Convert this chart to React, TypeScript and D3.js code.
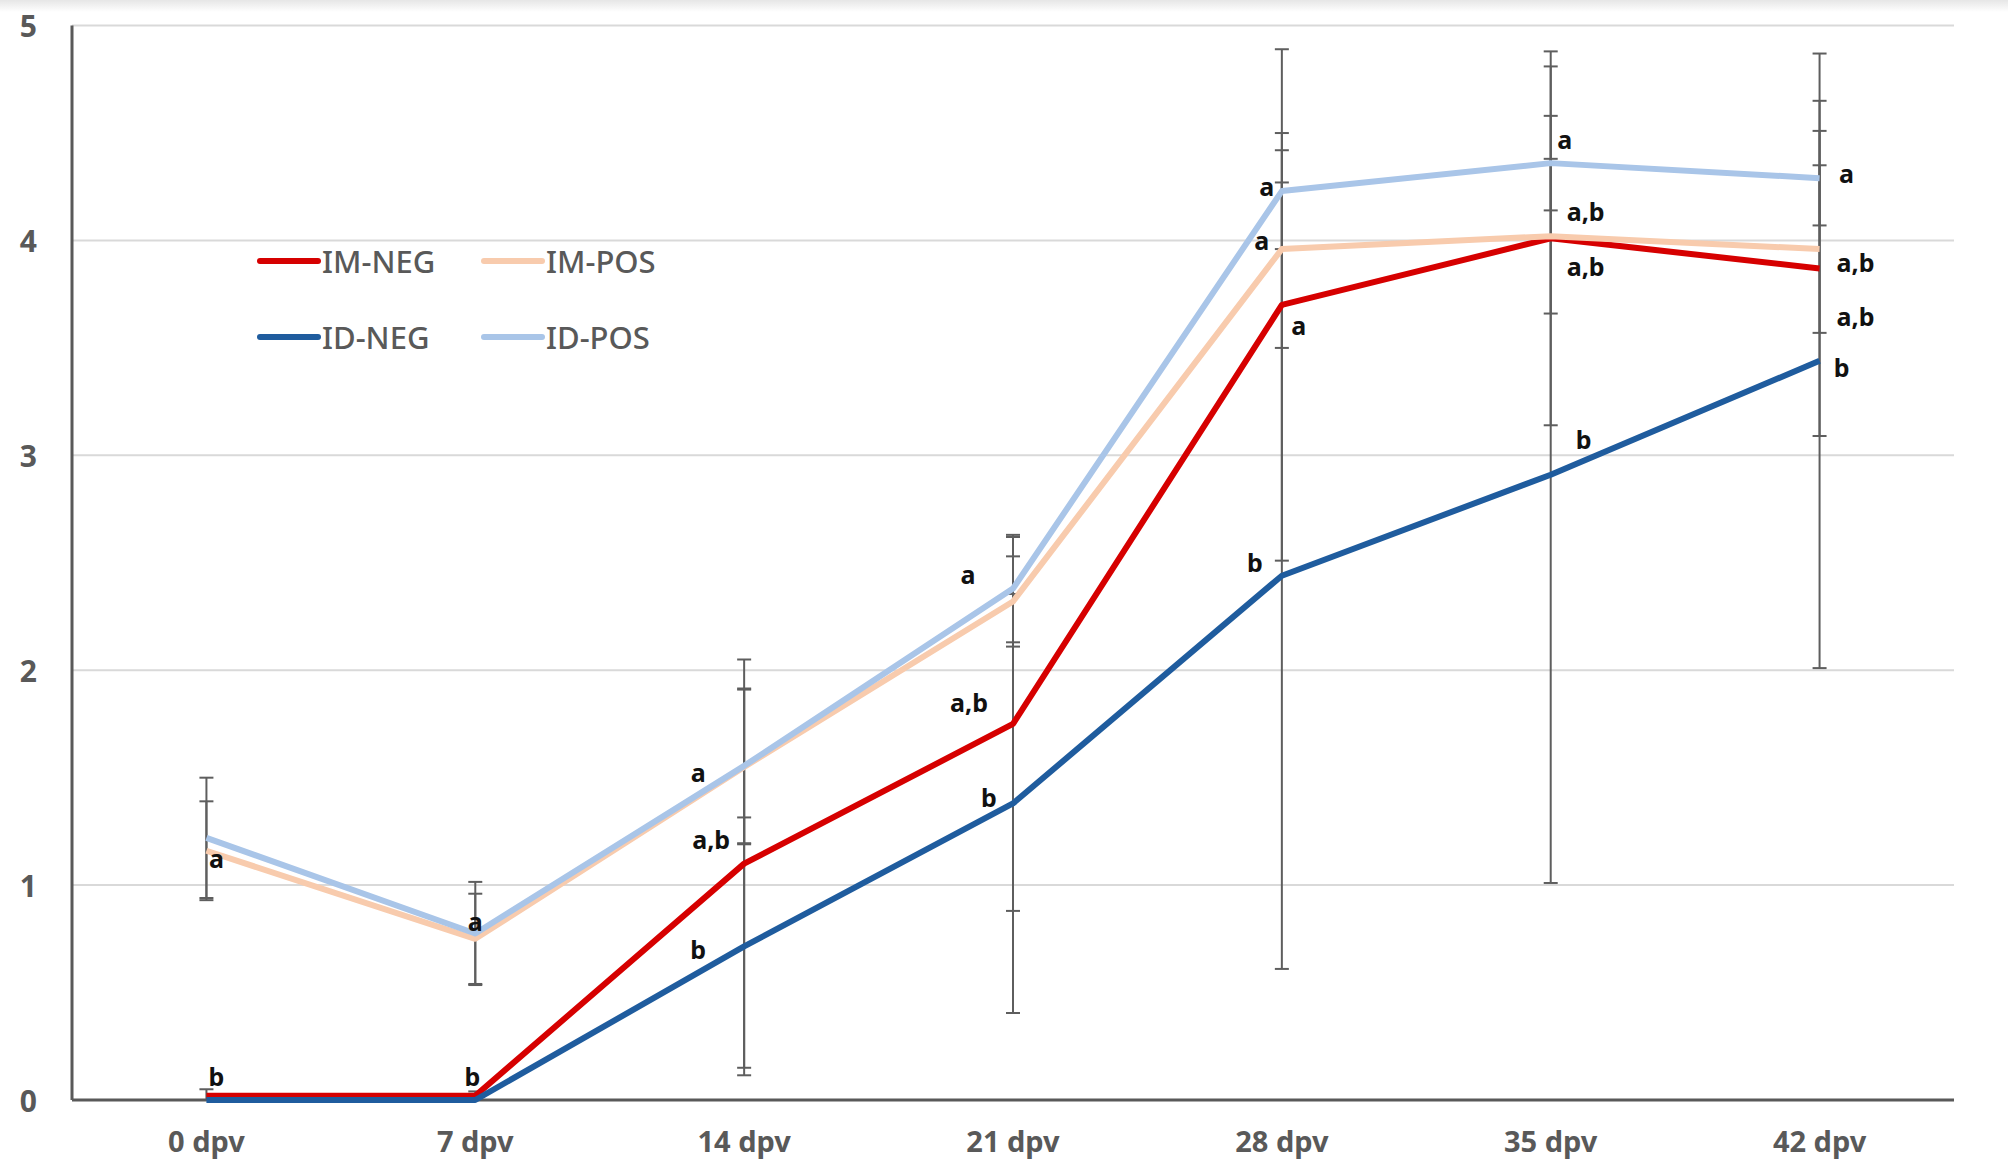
import React from "react";
import * as d3 from "d3";

const categories = ["0 dpv", "7 dpv", "14 dpv", "21 dpv", "28 dpv", "35 dpv", "42 dpv"];
const seriesNames = ["IM-NEG", "ID-NEG", "IM-POS", "ID-POS"];
const imNeg = [0.02, 0.02, 1.10, 1.75, 3.70, 4.01, 3.87];
const idNeg = [0.0, 0.0, 0.715, 1.38, 2.44, 2.91, 3.44];
const imPos = [1.16, 0.75, 1.55, 2.32, 3.96, 4.02, 3.96];
const idPos = [1.22, 0.775, 1.555, 2.38, 4.23, 4.36, 4.29];
const imNegErr = [0.03, 0.02, 0.95, 0.87, 1.19, 0.87, 0.78];
const idNegErr = [0, 0, 0.6, 0.975, 1.83, 1.9, 1.43];
const imPosErr = [0.23, 0.21, 0.36, 0.21, 0.46, 0.36, 0.39];
const idPosErr = [0.28, 0.24, 0.36, 0.25, 0.27, 0.22, 0.22];
const yTicks = [0, 1, 2, 3, 4, 5];

const annotCats = [0, 0, 1, 1, 2, 2, 2, 3, 3, 3, 4, 4, 4, 4, 5, 5, 5, 5, 6, 6, 6, 6];
const annotLabels = ["a", "b", "a", "b", "a", "a,b", "b", "a", "a,b", "b", "a", "a", "a", "b", "a", "a,b", "a,b", "b", "a", "a,b", "a,b", "b"];
const annotValues = [1.126, 0.113, 0.834, 0.113, 1.526, 1.216, 0.703, 2.45, 1.85, 1.41, 4.255, 4.0, 3.605, 2.503, 4.47, 4.136, 3.88, 3.075, 4.315, 3.9, 3.65, 3.41];
// horizontal offsets (px) of label centres from the category centre
const annotDx = [10, 10, 0, -3, -46, -33, -46, -45, -44, -24, -15, -20, 17, -27, 14, 35, 35, 33, 27, 36, 36, 22];

const colors = ["#D60000", "#1F5C9E", "#F8CBAD", "#A9C5E8"];
const values = [imNeg, idNeg, imPos, idPos];
const errs = [imNegErr, idNegErr, imPosErr, idPosErr];

const legendOrder = [0, 2, 1, 3];

export default function App() {
  const W = 2008, H = 1164;
  const left = 72, right = 1954, top = 25.6, bottom = 1100;
  const x = d3.scaleBand<string>().domain(categories).range([left, right]).padding(0);
  const cx = (i: number) => (x(categories[i]) as number) + x.bandwidth() / 2;
  const y = d3.scaleLinear().domain([0, 5]).range([bottom, top]);
  const line = d3.line<number>().x((_, i) => cx(i)).y((v) => y(v));
  const font = "'Noto Sans', 'Open Sans', sans-serif";
  const gray = "#595959";

  return (
    <svg width={W} height={H} style={{ position: "absolute", left: 0, top: 0, background: "#fff" }} fontFamily={font}>
      <defs>
        <linearGradient id="topShade" x1="0" y1="0" x2="0" y2="1">
          <stop offset="0" stopColor="#E6E6E6" />
          <stop offset="1" stopColor="#FFFFFF" />
        </linearGradient>
      </defs>
      <rect x={0} y={0} width={W} height={H} fill="#fff" />
      <rect x={0} y={0} width={W} height={12} fill="url(#topShade)" />
      {yTicks.map((t) => (
        <g key={t}>
          {t > 0 && <line x1={left} x2={right} y1={y(t)} y2={y(t)} stroke="#D9D9D9" strokeWidth={2} />}
          <text x={37} y={y(t)} textAnchor="end" dominantBaseline="central" fontSize={30} fontWeight="bold" fill={gray}>{t}</text>
        </g>
      ))}
      {values.map((vals, s) =>
        vals.map((v, i) => {
          const e = errs[s][i];
          if (!e) return null;
          const X = cx(i);
          const y1 = y(Math.max(0, v - e)), y2 = y(v + e);
          return (
            <g key={`e${s}-${i}`} stroke="#5E5E5E" strokeWidth={2}>
              <line x1={X} x2={X} y1={y1} y2={y2} />
              <line x1={X - 7} x2={X + 7} y1={y1} y2={y1} />
              <line x1={X - 7} x2={X + 7} y1={y2} y2={y2} />
            </g>
          );
        })
      )}
      <line x1={left} x2={left} y1={top} y2={bottom} stroke={gray} strokeWidth={3} />
      <line x1={left} x2={right} y1={bottom} y2={bottom} stroke={gray} strokeWidth={3} />
      {values.map((vals, s) => (
        <path key={`l${s}`} d={line(vals) || ""} fill="none" stroke={colors[s]} strokeWidth={6} strokeLinejoin="round" />
      ))}
      {categories.map((c, i) => (
        <text key={c} x={cx(i)} y={1152} textAnchor="middle" fontSize={29} fontWeight="bold" fill={gray}>{c}</text>
      ))}
      {annotLabels.map((lab, k) => (
        <text key={`a${k}`} x={cx(annotCats[k]) + annotDx[k]} y={y(annotValues[k])} textAnchor="middle" dominantBaseline="central" fontSize={25} fontWeight="bold" fill="#111">{lab}</text>
      ))}
      {legendOrder.map((s, k) => {
        const col = k % 2, row = Math.floor(k / 2);
        const lx = 260 + col * 224;
        const ly = 261 + row * 76;
        return (
          <g key={`lg${s}`}>
            <line x1={lx} x2={lx + 58} y1={ly} y2={ly} stroke={colors[s]} strokeWidth={6} strokeLinecap="round" />
            <text x={lx + 62} y={ly} dominantBaseline="central" fontSize={31} fontWeight={500} fill={gray}>{seriesNames[s]}</text>
          </g>
        );
      })}
    </svg>
  );
}
